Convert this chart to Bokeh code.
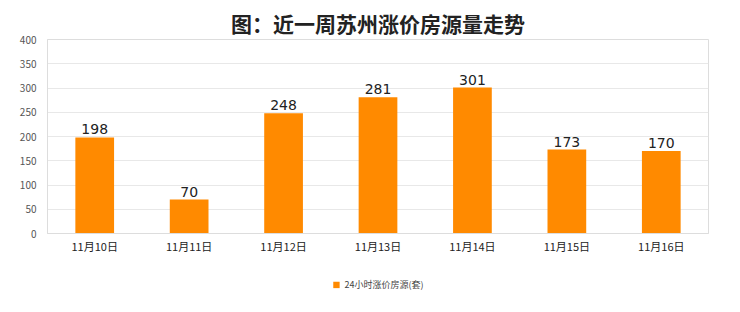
from bokeh.plotting import figure
from bokeh.layouts import column
from bokeh.models import ColumnDataSource, Legend, LegendItem, Title, FactorRange, Range1d, SingleIntervalTicker, LabelSet
from bokeh.core.properties import value
from bokeh.embed import file_html
from bokeh.resources import INLINE

categories = ["11月10日", "11月11日", "11月12日", "11月13日", "11月14日", "11月15日", "11月16日"]
values = [198, 70, 248, 281, 301, 173, 170]
series_name = "24小时涨价房源(套)"
title_text = "图：近一周苏州涨价房源量走势"

FONT = "Noto Sans CJK SC"
ORANGE = "#ff8a00"

src = ColumnDataSource(dict(cat=categories, val=values, lbl=[str(v) for v in values]))

p = figure(width=740, height=256, x_range=FactorRange(*categories), y_range=Range1d(0, 400),
           output_backend="svg", toolbar_location=None,
           min_border_left=47, min_border_right=32, min_border_top=39, min_border_bottom=22)
t = Title(text=title_text, align="center", vertical_align="middle", text_font=FONT,
          text_font_size="21px", text_font_style="bold", text_color="#222222", standoff=2)
p.add_layout(t, "above")

r = p.vbar(x="cat", top="val", width=0.41, source=src, fill_color=ORANGE, line_color=None)

labels = LabelSet(x="cat", y="val", text="lbl", source=src, text_align="center",
                  text_baseline="bottom", y_offset=3, text_font_size="14px",
                  text_font=value("DejaVu Sans"), text_color="#222222")
p.add_layout(labels)

p.yaxis.ticker = SingleIntervalTicker(interval=50)
p.yaxis.major_label_text_font_size = "10px"
p.yaxis.major_label_text_color = "#555555"
p.yaxis.major_label_text_font = FONT
p.yaxis.axis_line_color = "#dddddd"
p.yaxis.major_tick_line_color = None
p.yaxis.minor_tick_line_color = None
p.yaxis.major_tick_out = 0
p.yaxis.major_label_standoff = 7

p.xaxis.major_label_text_font_size = "11px"
p.xaxis.major_label_text_color = "#222222"
p.xaxis.major_label_text_font = FONT
p.xaxis.axis_line_color = "#dddddd"
p.xaxis.major_tick_line_color = None
p.xaxis.major_tick_out = 0
p.xaxis.major_label_standoff = 4

p.xgrid.grid_line_color = None
p.ygrid.grid_line_color = "#e8e8e8"
p.outline_line_color = "#dddddd"

# legend strip below the chart (zero-height proxy bar only supplies the legend swatch)
lg = figure(width=740, height=56, x_range=Range1d(0, 1), y_range=Range1d(0, 1),
            output_backend="svg", toolbar_location=None, min_border=0)
lg.axis.visible = False
lg.grid.visible = False
lg.outline_line_color = None
lr = lg.vbar(x=[0.5], bottom=[0], top=[0], width=0.4, fill_color=ORANGE, line_color=None)
legend = Legend(items=[LegendItem(label=series_name, renderers=[lr])], location="center",
                orientation="horizontal", label_text_font_size="9px", label_text_font=FONT,
                label_text_color="#444444", glyph_width=8, glyph_height=8, label_height=10,
                border_line_color=None, background_fill_alpha=0, margin=0, padding=4)
lg.add_layout(legend, "center")

open("out.html", "w").write(file_html(column(p, lg, spacing=0), INLINE))
